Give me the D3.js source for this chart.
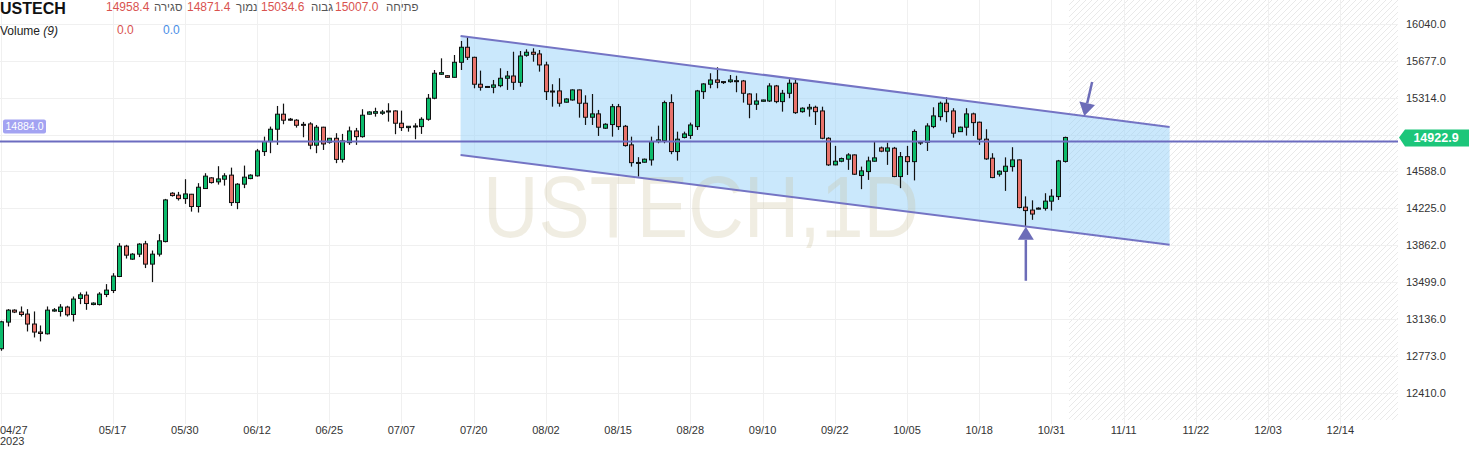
<!DOCTYPE html>
<html><head><meta charset="utf-8">
<script src="https://cdn.jsdelivr.net/npm/d3@7"></script>
<style>body{margin:0;background:#fff;overflow:hidden}svg{display:block;font-family:"Liberation Sans",Arial,sans-serif}</style>
</head><body><svg id="c" width="1469" height="449"></svg>
<script>
const opens=[12843,13105,13223,13204,13184,13086,13007,12990,13214,13210,13253,13180,13338,13371,13278,13278,13377,13416,13554,13853,13725,13774,13876,13676,13774,13898,14374,14355,14321,14364,14243,14420,14525,14486,14512,14552,14282,14463,14518,14545,14784,14882,15004,15152,15103,15093,15052,15056,14847,15024,14876,14915,14707,14872,14987,14931,15152,15161,15161,15174,15184,15063,15020,15026,15030,15102,15309,15545,15531,15515,15663,15811,15712,15447,15425,15417,15433,15506,15528,15466,15732,15762,15745,15637,15380,15381,15270,15292,15391,15260,15122,15155,15014,15050,15226,15033,14850,14672,14679,14702,14882,14892,15266,14784,14923,14943,15030,15374,15447,15489,15473,15472,15479,15479,15351,15250,15279,15282,15430,15276,15358,15457,15177,15204,15220,15184,14915,14653,14689,14709,14751,14548,14587,14689,14820,14788,14817,14538,14734,14685,14874,14876,15030,15128,15260,15184,14980,15024,15155,15073,14906,14719,14561,14589,14636,14702,14237,14208,14217,14225,14296,14341,14687];
const highs=[13118,13233,13231,13259,13233,13210,13072,13259,13243,13282,13266,13357,13397,13406,13300,13400,13479,13587,13882,13866,13784,13882,13905,13810,13971,14318,14384,14387,14512,14367,14473,14571,14532,14640,14571,14626,14473,14646,14560,14810,14931,15030,15233,15256,15115,15103,15076,15073,15046,15028,14918,14965,14958,15030,15017,15201,15181,15216,15194,15260,15190,15187,15036,15063,15122,15351,15587,15702,15538,15735,15873,15915,15718,15581,15430,15489,15604,15578,15767,15774,15791,15801,15784,15669,15447,15506,15309,15397,15395,15338,15351,15194,15063,15253,15253,15046,14931,14729,14715,14931,15039,15285,15348,14980,14980,15069,15391,15457,15555,15614,15476,15538,15531,15489,15358,15358,15295,15457,15440,15391,15496,15489,15220,15253,15236,15226,14925,14840,14725,14768,14756,14636,14734,14882,14833,14872,14830,14780,14840,15002,14889,15063,15220,15276,15319,15211,15030,15211,15167,15079,15004,14768,14599,14727,14827,14707,14343,14304,14235,14374,14414,14702,14931];
const lows=[12823,13062,13194,13160,13013,12954,12915,12983,13207,13160,13160,13111,13282,13226,13271,13269,13351,13391,13548,13731,13718,13745,13637,13499,13751,13890,14341,14302,14269,14193,14184,14417,14469,14459,14449,14249,14217,14424,14512,14538,14741,14768,14850,15053,15086,15020,14925,14807,14768,14800,14862,14670,14676,14850,14850,14921,15148,15128,15145,15079,14955,14987,14980,14906,14958,15088,15299,15538,15509,15512,15587,15686,15407,15384,15415,15358,15417,15391,15391,15423,15718,15669,15571,15292,15226,15226,15266,15285,15118,15046,15046,14938,15007,14931,14997,14833,14636,14538,14675,14646,14866,14866,14758,14695,14914,14909,14997,15302,15407,15407,15450,15462,15368,15266,15112,15194,15276,15272,15260,15177,15309,15155,15167,15128,15046,14906,14643,14648,14679,14604,14554,14414,14505,14685,14778,14653,14532,14424,14554,14500,14850,14790,15014,15089,15073,14921,14977,14941,14938,14850,14702,14522,14538,14397,14587,14225,14043,14112,14215,14203,14203,14308,14676];
const closes=[13108,13223,13204,13180,13086,13007,12993,13223,13226,13253,13177,13332,13374,13288,13292,13381,13420,13558,13853,13764,13774,13873,13676,13774,13905,14308,14351,14321,14367,14243,14433,14542,14479,14515,14545,14282,14463,14532,14552,14790,14882,15004,15152,15093,15100,15043,15048,14847,15024,14859,14915,14707,14889,14987,14931,15142,15174,15177,15174,15184,15063,15020,15033,15036,15102,15309,15555,15561,15515,15663,15811,15712,15447,15417,15422,15440,15506,15528,15466,15725,15762,15742,15637,15374,15378,15260,15302,15391,15260,15122,15155,15024,15053,15226,15030,14843,14675,14677,14709,14882,14899,15266,14784,14906,14958,15046,15381,15450,15489,15466,15470,15489,15482,15358,15250,15282,15292,15430,15276,15358,15457,15167,15211,15220,15177,14915,14653,14689,14715,14751,14561,14594,14692,14722,14788,14820,14538,14734,14685,14982,14878,15036,15135,15260,15177,14965,15024,15155,15069,14906,14712,14528,14591,14640,14702,14233,14203,14169,14227,14296,14345,14692,14922.9];
const xTickIndex=[0,17,28,39,50,61,72,83,94,105,116,127,138,149,160,171,182,193,204];
const xTickLabels=["04/27","05/17","05/30","06/12","06/25","07/07","07/20","08/02","08/15","08/28","09/10","09/22","10/05","10/18","10/31","11/11","11/22","12/03","12/14"];
const yTicks=[12410,12773,13136,13499,13862,14225,14588,14951,15314,15677,16040];
const hiddenYLabels=[14951];
const lastPrice=14922.9;
const hLinePrice=14884;
const channelIdx=[70,178];
const channelUpper=[15922,15027];
const channelLower=[14751,13866];
const arrowFrom=[[156.1,13512],[166.2,15469]];
const arrowTo=[[156.1,14043],[165,15135]];
const headerItems=[["14958.4","סגירה"],["14871.4","נמוך"],["15034.6","גבוה"],["15007.0","פתיחה"]];

const svg=d3.select("#c");
const W=1469,H=449,plotR=1398,plotB=422;
const x=d3.scaleLinear().domain([0,204]).range([1,1340.3]);
const y=d3.scaleLinear().domain([12410,16040]).range([392.7,24]);
const n=closes.length;

const defs=svg.append("defs");
const pat=defs.append("pattern").attr("id","hatch").attr("patternUnits","userSpaceOnUse").attr("width",6).attr("height",6);
pat.append("path").attr("d","M0,6L6,0M-1,1L1,-1M5,7L7,5").attr("stroke","#e9e9e9").attr("stroke-width",1);

svg.append("rect").attr("width",W).attr("height",H).attr("fill","#fff");
const futX=x(n-1)+4.5;
svg.append("rect").attr("x",futX).attr("y",0).attr("width",plotR-futX).attr("height",plotB-2).attr("fill","url(#hatch)");

// grid
svg.append("g").selectAll("line").data(yTicks).join("line")
 .attr("x1",0).attr("x2",plotR).attr("y1",d=>Math.round(y(d))+0.5).attr("y2",d=>Math.round(y(d))+0.5)
 .attr("stroke","#f0f0f0");
svg.append("g").selectAll("line").data(xTickIndex).join("line")
 .attr("y1",0).attr("y2",plotB+2).attr("x1",d=>Math.round(x(d))+0.5).attr("x2",d=>Math.round(x(d))+0.5)
 .attr("stroke","#f0f0f0");

// channel fill
const pts=[[x(channelIdx[0]),y(channelUpper[0])],[x(channelIdx[1]),y(channelUpper[1])],[x(channelIdx[1]),y(channelLower[1])],[x(channelIdx[0]),y(channelLower[0])]];
svg.append("polygon").attr("points",pts.map(p=>p.join(",")).join(" ")).attr("fill","rgba(150,210,250,0.5)");

// watermark
svg.append("text").attr("x",483).attr("y",237).attr("font-size",88).attr("textLength",436).attr("lengthAdjust","spacingAndGlyphs")
 .attr("fill","rgba(200,190,150,0.28)").text("USTECH,1D");

// candles
const up="#0cbb6c",dn="#e8736b";
const g=svg.append("g");
d3.range(n).forEach(i=>{
  const cx=Math.round(x(i))+0.5;
  g.append("line").attr("x1",cx).attr("x2",cx).attr("y1",y(highs[i])).attr("y2",y(lows[i])).attr("stroke","#111").attr("stroke-width",1.2);
  const top=y(Math.max(opens[i],closes[i])),bot=y(Math.min(opens[i],closes[i]));
  g.append("rect").attr("x",cx-2).attr("y",top).attr("width",4).attr("height",Math.max(1,bot-top))
   .attr("fill",closes[i]>=opens[i]?up:dn).attr("stroke","#111").attr("stroke-width",1);
});

// horizontal line
svg.append("line").attr("x1",0).attr("x2",plotR).attr("y1",y(hLinePrice)).attr("y2",y(hLinePrice)).attr("stroke","#6c6cc0").attr("stroke-width",2);
// channel lines
[channelUpper,channelLower].forEach(c=>{
  svg.append("line").attr("x1",x(channelIdx[0])).attr("y1",y(c[0])).attr("x2",x(channelIdx[1])).attr("y2",y(c[1]))
   .attr("stroke","#7474c4").attr("stroke-width",2);
});
// arrows
arrowFrom.forEach((f,k)=>{
  const t=arrowTo[k];
  const x1=x(f[0]),y1=y(f[1]),x2=x(t[0]),y2=y(t[1]);
  const L=Math.hypot(x2-x1,y2-y1),ux=(x2-x1)/L,uy=(y2-y1)/L;
  const hl=13,hw=8;
  const bx=x2-ux*hl,by=y2-uy*hl;
  svg.append("line").attr("x1",x1).attr("y1",y1).attr("x2",bx).attr("y2",by).attr("stroke","#6c6cb8").attr("stroke-width",2.5);
  svg.append("polygon").attr("points",[[x2,y2],[bx-uy*hw,by+ux*hw],[bx+uy*hw,by-ux*hw]].map(p=>p.join(",")).join(" "))
   .attr("fill","#6c6cb8");
});

// y axis labels
svg.append("g").selectAll("text").data(yTicks.filter(d=>!hiddenYLabels.includes(d))).join("text")
 .attr("x",1406).attr("y",d=>y(d)+4).attr("font-size",11).attr("fill","#333").text(d=>d.toFixed(1));
// last price label
const ly=y(lastPrice);
svg.append("path").attr("d",`M1399,${ly}L1405,${ly-8}L1469,${ly-8}L1469,${ly+9}L1405,${ly+9}Z`).attr("fill","#1cc67a");
svg.append("text").attr("x",1436).attr("y",ly+5).attr("text-anchor","middle").attr("font-size",12.5).attr("font-weight","bold").attr("fill","#fff").text(lastPrice.toFixed(1));
// left price label
const hy=y(hLinePrice);
svg.append("rect").attr("x",3).attr("y",hy-22).attr("width",43).attr("height",14).attr("rx",2).attr("fill","#a3a3f2");
svg.append("text").attr("x",24.5).attr("y",hy-11).attr("text-anchor","middle").attr("font-size",10.5).attr("fill","#fff").text(hLinePrice.toFixed(1));

// x axis labels
svg.append("g").selectAll("text").data(xTickIndex).join("text")
 .attr("x",(d,i)=>i===0?0:x(d)).attr("y",434).attr("text-anchor",(d,i)=>i===0?"start":"middle")
 .attr("font-size",11).attr("fill","#333").text((d,i)=>xTickLabels[i]);
svg.append("text").attr("x",0).attr("y",445).attr("font-size",11).attr("fill","#333").text("2023");

// header
svg.append("text").attr("x",0).attr("y",14).attr("font-size",16).attr("font-weight","bold").attr("fill","#111").text("USTECH");
const hx=[[106,154],[187,236],[261,311],[335,386]];
headerItems.forEach((h,k)=>{
  svg.append("text").attr("x",hx[k][0]).attr("y",11).attr("font-size",12).attr("fill","#d9534f").text(h[0]);
  svg.append("text").attr("x",hx[k][1]).attr("y",11).attr("font-size",11.5).attr("fill","#555").text(h[1]);
});
const vt=svg.append("text").attr("x",0).attr("y",35).attr("font-size",12).attr("fill","#222");
vt.append("tspan").text("Volume ");
vt.append("tspan").attr("font-style","italic").text("(9)");
svg.append("text").attr("x",117).attr("y",34).attr("font-size",12).attr("fill","#d9534f").text("0.0");
svg.append("text").attr("x",163).attr("y",34).attr("font-size",12).attr("fill","#4a8ee6").text("0.0");
</script></body></html>
